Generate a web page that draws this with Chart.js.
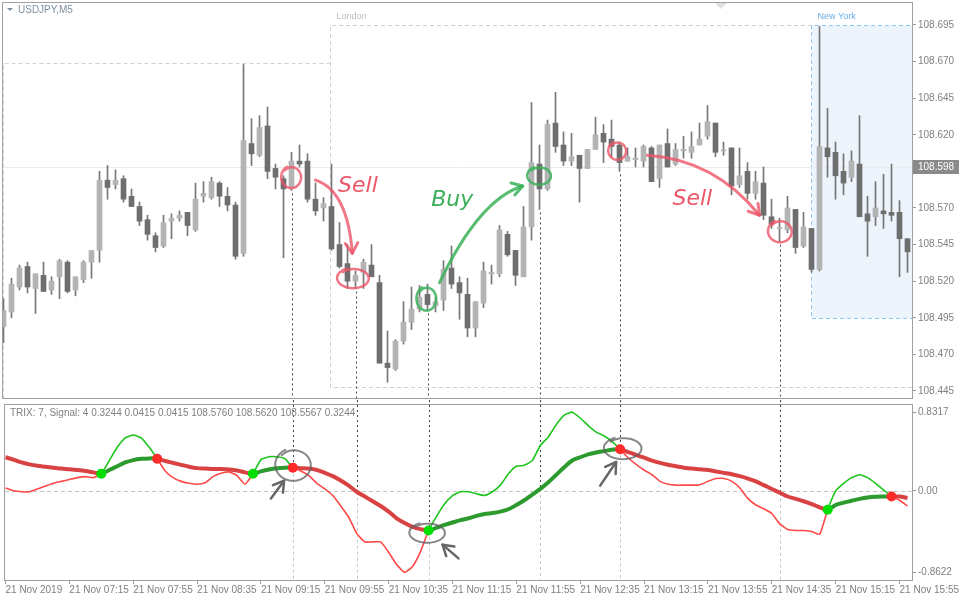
<!DOCTYPE html>
<html>
<head>
<meta charset="utf-8">
<script src="https://cdn.jsdelivr.net/npm/chart.js@4.4.1/dist/chart.umd.min.js"></script>
<style>
  html, body { margin: 0; padding: 0; background: #fff; }
  #wrap { position: relative; width: 960px; height: 600px; }
  canvas { position: absolute; left: 0; }
  #priceChart { top: 0; }
  #trixChart { top: 400px; }
</style>
</head>
<body>
<div id="wrap">
  <canvas id="priceChart" width="960" height="400"></canvas>
  <canvas id="trixChart" width="960" height="200"></canvas>
</div>
<script>
// USDJPY M5, 21 Nov 2019, bars from 06:35
const open = [108.489,108.499,108.516,108.530,108.515,108.524,108.514,108.523,108.533,108.514,
  108.521,108.533,108.541,108.589,108.586,108.590,108.578,108.571,108.562,108.551,
  108.544,108.561,108.563,108.567,108.555,108.578,108.577,108.587,108.578,108.572,
  108.539,108.614,108.606,108.626,108.597,108.590,108.584,108.602,108.602,108.576,
  108.570,108.571,108.545,108.532,108.520,108.526,108.531,108.519,108.464,108.460,
  108.479,108.492,108.501,108.511,108.503,108.507,108.529,108.519,108.511,108.488,
  108.505,108.525,108.525,108.552,108.541,108.523,108.557,108.600,108.583,108.628,
  108.613,108.602,108.606,108.597,108.610,108.621,108.617,108.613,108.602,108.603,
  108.602,108.611,108.590,108.614,108.600,108.609,108.608,108.613,108.619,108.628,
  108.609,108.611,108.586,108.595,108.580,108.587,108.564,108.556,108.555,108.569,
  108.544,108.556,108.528,108.611,108.608,108.595,108.591,108.600,108.566,108.564,
  108.568,108.567,108.567,108.549]
const high = [108.508,108.522,108.531,108.533,108.525,108.533,108.523,108.535,108.534,108.523,
  108.534,108.541,108.595,108.599,108.596,108.592,108.583,108.574,108.565,108.553,
  108.565,108.566,108.568,108.567,108.587,108.588,108.591,108.588,108.584,108.574,
  108.668,108.631,108.633,108.639,108.600,108.592,108.608,108.613,108.607,108.587,
  108.577,108.600,108.560,108.545,108.527,108.535,108.545,108.524,108.486,108.480,
  108.506,108.516,108.517,108.518,108.509,108.534,108.544,108.523,108.522,108.506,
  108.533,108.531,108.558,108.554,108.541,108.571,108.642,108.613,108.630,108.649,
  108.622,108.621,108.606,108.610,108.632,108.627,108.630,108.615,108.611,108.611,
  108.613,108.612,108.613,108.624,108.614,108.619,108.622,108.628,108.640,108.628,
  108.615,108.611,108.611,108.601,108.595,108.598,108.576,108.563,108.578,108.569,
  108.567,108.556,108.694,108.638,108.615,108.607,108.609,108.633,108.578,108.588,
  108.593,108.600,108.575,108.549]
const low = [108.478,108.495,108.514,108.512,108.498,108.513,108.511,108.508,108.512,108.510,
  108.519,108.522,108.533,108.576,108.583,108.574,108.571,108.558,108.548,108.540,
  108.543,108.549,108.561,108.551,108.554,108.574,108.576,108.571,108.568,108.535,
  108.537,108.599,108.605,108.590,108.583,108.536,108.582,108.598,108.574,108.565,
  108.561,108.541,108.529,108.515,108.515,108.515,108.523,108.464,108.451,108.459,
  108.477,108.487,108.499,108.500,108.499,108.500,108.515,108.494,108.482,108.482,
  108.502,108.518,108.523,108.537,108.517,108.523,108.548,108.569,108.582,108.608,
  108.599,108.599,108.574,108.597,108.610,108.601,108.605,108.595,108.602,108.598,
  108.598,108.588,108.584,108.598,108.599,108.604,108.604,108.613,108.617,108.605,
  108.606,108.579,108.584,108.576,108.576,108.562,108.556,108.547,108.553,108.539,
  108.543,108.526,108.527,108.591,108.576,108.579,108.588,108.564,108.537,108.558,
  108.556,108.561,108.523,108.526]
const close = [108.500,108.518,108.529,108.516,108.525,108.513,108.520,108.534,108.513,108.523,
  108.533,108.541,108.589,108.584,108.589,108.576,108.571,108.561,108.552,108.543,
  108.560,108.563,108.565,108.558,108.576,108.580,108.588,108.578,108.572,108.537,
  108.616,108.607,108.625,108.595,108.591,108.583,108.602,108.600,108.576,108.568,
  108.573,108.542,108.530,108.520,108.524,108.533,108.523,108.464,108.461,108.479,
  108.492,108.501,108.509,108.504,108.506,108.528,108.518,108.512,108.488,108.506,
  108.527,108.526,108.555,108.538,108.524,108.557,108.601,108.583,108.627,108.612,
  108.602,108.605,108.597,108.610,108.620,108.615,108.612,108.601,108.605,108.604,
  108.612,108.588,108.613,108.598,108.610,108.610,108.612,108.617,108.629,108.608,
  108.609,108.585,108.592,108.580,108.588,108.565,108.559,108.556,108.570,108.543,
  108.557,108.528,108.612,108.605,108.592,108.587,108.602,108.564,108.561,108.570,
  108.566,108.565,108.549,108.540]

// TRIX(7) and its signal(4)
const trix = [0.03,0.0,-0.01,-0.01,0.02,0.05,0.08,0.10,0.12,0.14,
  0.15,0.14,0.18,0.32,0.46,0.56,0.59,0.56,0.46,0.34,
  0.21,0.14,0.10,0.08,0.07,0.085,0.15,0.185,0.20,0.16,
  0.07,0.18,0.33,0.36,0.36,0.34,0.245,0.21,0.16,0.08,
  0.02,-0.05,-0.16,-0.28,-0.45,-0.54,-0.54,-0.54,-0.65,-0.78,
  -0.8622,-0.80,-0.64,-0.42,-0.27,-0.14,-0.05,-0.01,-0.01,-0.03,
  -0.05,-0.01,0.06,0.18,0.26,0.27,0.32,0.48,0.57,0.70,
  0.80,0.8317,0.77,0.69,0.62,0.58,0.52,0.44,0.35,0.28,
  0.22,0.17,0.10,0.07,0.06,0.06,0.06,0.065,0.10,0.13,
  0.13,0.10,0.03,-0.08,-0.15,-0.19,-0.24,-0.35,-0.41,-0.42,
  -0.42,-0.43,-0.46,-0.20,0.0,0.08,0.14,0.17,0.14,0.08,
  0.01,-0.06,-0.10,-0.16]
const signal = [0.355,0.33,0.30,0.28,0.265,0.255,0.245,0.235,0.228,0.22,
  0.21,0.195,0.18,0.22,0.26,0.30,0.325,0.338,0.343,0.34,
  0.315,0.295,0.275,0.255,0.24,0.235,0.232,0.23,0.225,0.215,
  0.195,0.18,0.205,0.225,0.238,0.245,0.245,0.24,0.235,0.22,
  0.19,0.155,0.11,0.055,-0.01,-0.06,-0.11,-0.16,-0.22,-0.29,
  -0.34,-0.38,-0.405,-0.42,-0.39,-0.36,-0.335,-0.31,-0.29,-0.265,
  -0.245,-0.235,-0.22,-0.195,-0.15,-0.10,-0.04,0.02,0.09,0.17,
  0.25,0.32,0.355,0.385,0.405,0.42,0.435,0.44,0.41,0.38,
  0.35,0.32,0.295,0.275,0.26,0.245,0.235,0.228,0.22,0.205,
  0.19,0.175,0.155,0.13,0.10,0.06,0.02,-0.02,-0.06,-0.085,
  -0.11,-0.14,-0.175,-0.20,-0.15,-0.125,-0.105,-0.085,-0.07,-0.062,
  -0.06,-0.06,-0.06,-0.075]
const buyIdx = [12, 31, 53, 103]
const sellIdx = [19, 36, 77, 111]
const markIdx = [36, 44, 53, 67, 77, 97]   // bars with a dotted marker line

const tickIdx = [0, 8, 16, 24, 32, 40, 48, 56, 64, 72, 80, 88, 96, 104, 112]
const tickLabels = ['21 Nov 2019', '21 Nov 07:15', '21 Nov 07:55', '21 Nov 08:35', '21 Nov 09:15',
  '21 Nov 09:55', '21 Nov 10:35', '21 Nov 11:15', '21 Nov 11:55', '21 Nov 12:35', '21 Nov 13:15',
  '21 Nov 13:55', '21 Nov 14:35', '21 Nov 15:15', '21 Nov 15:55']
const priceTicks = [108.445, 108.470, 108.495, 108.520, 108.545, 108.570, 108.595, 108.620, 108.645, 108.670, 108.695]
const trixTicks = [-0.8622, 0, 0.8317]
const trixTickLabels = ['-0.8622', '0.00', '0.8317']
const lastPrice = 108.598

// sessions: Asia, London, New York (end null = still open)
const sessionNames = ['', 'London', 'New York']
const sessionStart = [-0.1, 40.85, 100.9]
const sessionEnd = [40.85, null, null]
const sessionHigh = [108.669, 108.695, 108.695]
const sessionLow = [108.40, 108.448, 108.495]
const sessionStyle = [
  { line: '#d2d2d2', fill: null, text: '#bbb' },
  { line: '#cfcfcf', fill: null, text: '#bdbdbd' },
  { line: '#8fc8f2', fill: '#eef4fc', text: '#6aaee8' }
]

// hand drawn notes on the chart
const RED = 'rgba(238,84,104,0.8)'
const GREEN = 'rgba(56,178,88,0.85)'
const priceNotes = [
  { kind: 'ring', at: [36, 108.591], r: [10, 11], color: RED },
  { kind: 'arrow', from: [39, 108.589], via: [43, 108.582], to: [43.6, 108.539], color: RED },
  { kind: 'text', at: [44.3, 108.585], text: 'Sell', color: '#ec5668' },
  { kind: 'ring', at: [43.75, 108.522], r: [16, 10], color: RED },
  { kind: 'ring', at: [52.9, 108.508], r: [10, 12], color: GREEN },
  { kind: 'arrow', from: [54.5, 108.519], via: [59.5, 108.576], to: [64.9, 108.585], color: GREEN },
  { kind: 'text', at: [56.1, 108.575], text: 'Buy', color: '#3aae5a' },
  { kind: 'ring', at: [67, 108.592], r: [12, 9], color: GREEN },
  { kind: 'ring', at: [76.75, 108.609], r: [9, 9], color: RED },
  { kind: 'arrow', from: [80.5, 108.606], via: [88.9, 108.603], to: [94.5, 108.565], color: RED },
  { kind: 'text', at: [86.1, 108.576], text: 'Sell', color: '#ec5668' },
  { kind: 'ring', at: [97.1, 108.554], r: [12, 11], color: RED }
]
const GREY = 'rgba(95,95,95,0.75)'
const trixNotes = [
  { kind: 'ring', at: [36.1, 0.273], r: [18, 16], color: GREY },
  { kind: 'arrow', from: [33.25, -0.08], to: [34.9, 0.107], color: '#666' },
  { kind: 'ring', at: [52.9, -0.444], r: [18, 10], color: GREY },
  { kind: 'arrow', from: [56.75, -0.714], to: [54.75, -0.569], color: '#666' },
  { kind: 'ring', at: [77.4, 0.45], r: [19, 11], color: GREY },
  { kind: 'arrow', from: [74.5, 0.055], to: [76.5, 0.305], color: '#666' }
]

const FONT = '"Liberation Sans", Arial, sans-serif'
Chart.defaults.font.family = FONT
Chart.defaults.font.size = 10
Chart.defaults.color = '#7f7f7f'

const xMin = -0.0625
const xMax = 113.5625

function ring(ctx, cx, cy, rx, ry, color, w) {
  ctx.save()
  ctx.strokeStyle = color
  ctx.lineWidth = w
  ctx.lineCap = 'round'
  ctx.beginPath()
  const n = 50
  for (let k = 0; k <= n; k++) {
    const t = k / n
    const a = -2.4 + t * Math.PI * 2.12
    const g = 0.9 + 0.15 * t
    const x = cx + Math.cos(a) * rx * g
    const y = cy + Math.sin(a) * ry * g
    if (k) ctx.lineTo(x, y); else ctx.moveTo(x, y)
  }
  ctx.stroke()
  ctx.restore()
}

function arrow(ctx, p0, p1, p2, color, w) {
  ctx.save()
  ctx.strokeStyle = color
  ctx.lineWidth = w
  ctx.lineCap = 'round'
  ctx.lineJoin = 'round'
  ctx.beginPath()
  ctx.moveTo(p0[0], p0[1])
  ctx.quadraticCurveTo(p1[0], p1[1], p2[0], p2[1])
  ctx.stroke()
  const ang = Math.atan2(p2[1] - p1[1], p2[0] - p1[0])
  const len = 12
  ctx.beginPath()
  ctx.moveTo(p2[0] - len * Math.cos(ang - 0.55), p2[1] - len * Math.sin(ang - 0.55))
  ctx.lineTo(p2[0], p2[1])
  ctx.lineTo(p2[0] - len * Math.cos(ang + 0.55), p2[1] - len * Math.sin(ang + 0.55))
  ctx.stroke()
  ctx.restore()
}

function drawNotes(chart, notes, width) {
  const { ctx, scales: { x, y } } = chart
  const pt = a => [x.getPixelForValue(a[0]), y.getPixelForValue(a[1])]
  notes.forEach(n => {
    if (n.kind === 'ring') {
      const c = pt(n.at)
      ring(ctx, c[0], c[1], n.r[0], n.r[1], n.color, width)
    } else if (n.kind === 'arrow') {
      const a = pt(n.from), b = pt(n.to)
      const m = n.via ? pt(n.via) : [(a[0] + b[0]) / 2, (a[1] + b[1]) / 2]
      arrow(ctx, a, m, b, n.color, width + 0.5)
    } else {
      const c = pt(n.at)
      ctx.save()
      ctx.fillStyle = n.color
      ctx.font = 'italic 22px "DejaVu Sans"'
      ctx.textAlign = 'center'
      ctx.textBaseline = 'middle'
      ctx.fillText(n.text, c[0], c[1])
      ctx.restore()
    }
  })
}

function noPad(s) {
  s.paddingTop = 0; s.paddingBottom = 0; s.paddingLeft = 0; s.paddingRight = 0
}

const pricePlugin = {
  id: 'pricePanel',
  beforeDatasetsDraw(chart) {
    const { ctx, chartArea: a, scales: { x, y } } = chart
    ctx.save()
    // sessions
    sessionStart.forEach((s, k) => {
      const st = sessionStyle[k]
      const l = Math.round(x.getPixelForValue(s)) + 0.5
      const t = Math.round(y.getPixelForValue(sessionHigh[k])) + 0.5
      const b = Math.round(y.getPixelForValue(sessionLow[k])) + 0.5
      const r = sessionEnd[k] === null ? a.right + 5 : Math.round(x.getPixelForValue(sessionEnd[k])) + 0.5
      if (sessionNames[k]) {
        ctx.fillStyle = st.text
        ctx.font = '9px ' + FONT
        ctx.textBaseline = 'middle'
        ctx.fillText(sessionNames[k], l + 6, t - 9)
      }
      ctx.save()
      ctx.beginPath()
      ctx.rect(a.left, a.top, a.right - a.left, a.bottom - a.top)
      ctx.clip()
      if (st.fill) {
        ctx.fillStyle = st.fill
        ctx.fillRect(l, t, r - l, b - t)
      }
      ctx.strokeStyle = st.line
      ctx.lineWidth = 1
      ctx.setLineDash([4, 3])
      ctx.beginPath()
      ctx.moveTo(r, t); ctx.lineTo(l, t); ctx.lineTo(l, b); ctx.lineTo(r, b)
      ctx.stroke()
      ctx.restore()
    })
    ctx.beginPath()
    ctx.rect(a.left, a.top, a.right - a.left, a.bottom - a.top)
    ctx.clip()
    // last price line
    const ly = Math.round(y.getPixelForValue(lastPrice)) + 0.5
    ctx.strokeStyle = '#ececec'
    ctx.beginPath(); ctx.moveTo(a.left, ly); ctx.lineTo(a.right, ly); ctx.stroke()
    // dotted marker lines under the marked bars
    ctx.strokeStyle = '#444'
    ctx.setLineDash([2, 3])
    markIdx.forEach(i => {
      const px = Math.round(x.getPixelForValue(i)) + 0.5
      ctx.beginPath()
      ctx.moveTo(px, y.getPixelForValue(low[i]) + 3)
      ctx.lineTo(px, a.bottom + 2)
      ctx.stroke()
    })
    ctx.restore()
  },
  afterDatasetsDraw(chart) {
    const { ctx, chartArea: a, scales: { y } } = chart
    drawNotes(chart, priceNotes, 2.5)
    ctx.save()
    // frame
    ctx.strokeStyle = '#a0a0a0'
    ctx.lineWidth = 1
    ctx.strokeRect(a.left - 0.5, a.top - 0.5, a.right - a.left + 1, a.bottom - a.top + 1)
    // symbol caption
    ctx.fillStyle = '#7f8fa0'
    ctx.beginPath(); ctx.moveTo(7, 8); ctx.lineTo(13, 8); ctx.lineTo(10, 11); ctx.closePath(); ctx.fill()
    ctx.font = '10px ' + FONT
    ctx.textBaseline = 'middle'
    ctx.fillText('USDJPY,M5', 18, 10)
    // chart shift marker
    ctx.fillStyle = '#e2e2e2'
    ctx.beginPath(); ctx.moveTo(715, 3); ctx.lineTo(727, 3); ctx.lineTo(721, 9); ctx.closePath(); ctx.fill()
    // last price label
    const ly = Math.round(y.getPixelForValue(lastPrice))
    ctx.fillStyle = '#8a8a8a'
    ctx.fillRect(a.right + 1, ly - 7, 46, 14)
    ctx.fillStyle = '#fff'
    ctx.fillText(lastPrice.toFixed(3), a.right + 6, ly + 0.5)
    ctx.restore()
  }
}

const trixPlugin = {
  id: 'trixPanel',
  beforeDatasetsDraw(chart) {
    const { ctx, chartArea: a, scales: { x, y } } = chart
    ctx.save()
    const zy = Math.round(y.getPixelForValue(0)) + 0.5
    ctx.strokeStyle = '#c4c4c4'
    ctx.setLineDash([4, 3])
    ctx.beginPath(); ctx.moveTo(a.left, zy); ctx.lineTo(a.right, zy); ctx.stroke()
    markIdx.forEach(i => {
      const px = Math.round(x.getPixelForValue(i)) + 0.5
      const cy = y.getPixelForValue(signal[i])
      ctx.strokeStyle = '#c8c8c8'
      ctx.setLineDash([3, 3])
      ctx.beginPath(); ctx.moveTo(px, cy); ctx.lineTo(px, a.bottom); ctx.stroke()
      ctx.strokeStyle = '#444'
      ctx.setLineDash([2, 3])
      ctx.beginPath(); ctx.moveTo(px, 0); ctx.lineTo(px, cy); ctx.stroke()
    })
    ctx.restore()
  },
  afterDatasetsDraw(chart) {
    const { ctx, chartArea: a } = chart
    drawNotes(chart, trixNotes, 2)
    ctx.save()
    ctx.strokeStyle = '#a0a0a0'
    ctx.lineWidth = 1
    ctx.strokeRect(a.left - 0.5, a.top - 0.5, a.right - a.left + 1, a.bottom - a.top + 1)
    ctx.fillStyle = '#808080'
    ctx.font = '10px ' + FONT
    ctx.textBaseline = 'middle'
    ctx.fillText('TRIX: 7, Signal: 4 0.3244 0.0415 0.0415 108.5760 108.5620 108.5567 0.3244', a.left + 5, a.top + 8)
    ctx.restore()
  }
}

new Chart(document.getElementById('priceChart'), {
  type: 'bar',
  data: {
    datasets: [
      {
        label: 'wick',
        data: open.map((o, i) => ({ x: i, y: [low[i], high[i]] })),
        backgroundColor: '#767676',
        barThickness: 1,
        grouped: false,
        order: 2
      },
      {
        label: 'body',
        data: open.map((o, i) => ({ x: i, y: [o, close[i]] })),
        backgroundColor: c => close[c.dataIndex] >= open[c.dataIndex] ? '#b4b4b4' : '#6e6e6e',
        barThickness: 5,
        minBarLength: 1,
        grouped: false,
        order: 1
      }
    ]
  },
  options: {
    responsive: false,
    animation: false,
    layout: { padding: { left: 3, top: 3, right: 0, bottom: 2 } },
    plugins: { legend: { display: false }, tooltip: { enabled: false } },
    scales: {
      x: { type: 'linear', min: xMin, max: xMax, offset: false, display: false },
      y: {
        position: 'right',
        min: 108.4402,
        max: 108.7100,
        afterBuildTicks: s => { s.ticks = priceTicks.map(v => ({ value: v })) },
        afterFit: s => { s.width = 48; noPad(s) },
        ticks: { callback: v => v.toFixed(3), padding: 2, color: '#808080' },
        grid: { drawOnChartArea: false, tickLength: 4, color: '#9a9a9a' },
        border: { color: '#a0a0a0' }
      }
    }
  },
  plugins: [pricePlugin]
})

const up = c => trix[c.p0DataIndex] + trix[c.p1DataIndex] > signal[c.p0DataIndex] + signal[c.p1DataIndex]

new Chart(document.getElementById('trixChart'), {
  type: 'line',
  data: {
    datasets: [
      {
        label: 'buy',
        data: buyIdx.map(i => ({ x: i, y: signal[i] })),
        showLine: false,
        pointRadius: 5,
        pointBorderWidth: 0,
        pointBackgroundColor: '#00dd00',
        order: 0
      },
      {
        label: 'sell',
        data: sellIdx.map(i => ({ x: i, y: signal[i] })),
        showLine: false,
        pointRadius: 5,
        pointBorderWidth: 0,
        pointBackgroundColor: '#ff2a2a',
        order: 0
      },
      {
        label: 'TRIX',
        data: trix.map((v, i) => ({ x: i, y: v })),
        borderWidth: 1.6,
        pointRadius: 0,
        tension: 0.15,
        segment: { borderColor: c => up(c) ? '#1cc41c' : '#ff4848' },
        order: 1
      },
      {
        label: 'Signal',
        data: signal.map((v, i) => ({ x: i, y: v })),
        borderWidth: 4,
        pointRadius: 0,
        tension: 0.3,
        segment: { borderColor: c => up(c) ? '#2c9a2c' : '#d94242' },
        order: 2
      }
    ]
  },
  options: {
    responsive: false,
    animation: false,
    layout: { padding: { left: 3, top: 2, right: 0, bottom: 0 } },
    plugins: { legend: { display: false }, tooltip: { enabled: false } },
    scales: {
      x: {
        type: 'linear',
        min: xMin,
        max: xMax,
        offset: false,
        afterBuildTicks: s => { s.ticks = tickIdx.map(v => ({ value: v })) },
        afterFit: s => { s.height = 20; noPad(s) },
        ticks: {
          callback: v => tickLabels[tickIdx.indexOf(v)],
          align: 'start',
          autoSkip: false,
          maxRotation: 0,
          padding: 0,
          color: '#808080'
        },
        grid: { drawOnChartArea: false, tickLength: 4, color: '#9a9a9a' },
        border: { color: '#a0a0a0' }
      },
      y: {
        position: 'right',
        min: -0.9428,
        max: 0.9075,
        afterBuildTicks: s => { s.ticks = trixTicks.map(v => ({ value: v })) },
        afterFit: s => { s.width = 48; noPad(s) },
        ticks: { callback: v => trixTickLabels[trixTicks.indexOf(v)], padding: 2, color: '#808080' },
        grid: { drawOnChartArea: false, tickLength: 4, color: '#9a9a9a' },
        border: { color: '#a0a0a0' }
      }
    }
  },
  plugins: [trixPlugin]
})
</script>
</body>
</html>
